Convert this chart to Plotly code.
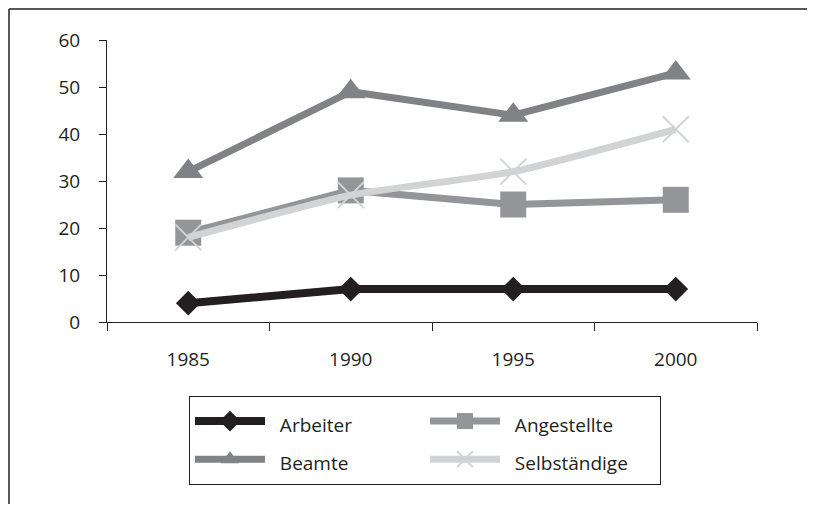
import plotly.graph_objects as go

years = ["1985", "1990", "1995", "2000"]
arbeiter = [4, 7, 7, 7]
angestellte = [19, 28, 25, 26]
beamte = [32, 49, 44, 53]
selbstaendige = [18, 27, 32, 41]
y_ticks = [0, 10, 20, 30, 40, 50, 60]
grid_ticks = [10, 20, 30, 40, 50]

# the page body has an 8px default margin; size the figure so the page fits the window
OFF = 8
W, H = 815 - 2 * OFF, 512 - 2 * OFF
ML, MT = 107 - OFF, 40 - OFF
PW, PH = 650, 282
MR, MB = W - ML - PW, H - MT - PH

FONT = "Open Sans"
INK = "#231f20"


def lbl(s):
    return '<span style="font-size:19px">&nbsp;&nbsp;' + s + '</span>'


fig = go.Figure()
fig.add_trace(go.Scatter(
    x=years, y=arbeiter, name=lbl("Arbeiter"), mode="lines+markers",
    line=dict(color=INK, width=8),
    marker=dict(symbol="diamond", size=19, color=INK)))
fig.add_trace(go.Scatter(
    x=years, y=angestellte, name=lbl("Angestellte"), mode="lines+markers",
    line=dict(color="#939598", width=7),
    marker=dict(symbol="square", size=26, color="#939598")))
fig.add_trace(go.Scatter(
    x=years, y=beamte, name=lbl("Beamte"), mode="lines+markers",
    line=dict(color="#808285", width=7),
    marker=dict(symbol="triangle-up", size=26, color="#808285")))
fig.add_trace(go.Scatter(
    x=years, y=selbstaendige, name=lbl("Selbständige"), mode="lines+markers",
    line=dict(color="#d1d3d4", width=7, shape="spline", smoothing=0.5),
    marker=dict(symbol="x-thin-open", size=26, color="#d1d3d4",
                line=dict(color="#d1d3d4", width=2))))

# frame of the picture: only its top and left edges are visible
fx0 = (1 - ML) / PW
fy1 = 1 + (MT - 1) / PH
fx_far = (W + 50 - ML) / PW
fy_far = -(H + 50 - MT - PH) / PH

fig.update_layout(
    width=W, height=H,
    margin=dict(l=ML, r=MR, t=MT, b=MB),
    paper_bgcolor="white", plot_bgcolor="rgba(0,0,0,0)",
    font=dict(family=FONT, size=19, color=INK),
    showlegend=True,
    xaxis=dict(type="category", range=[-0.5, 3.5], tickson="boundaries",
               ticks="outside", ticklen=8, tickcolor=INK, tickwidth=1,
               showline=True, linecolor=INK, linewidth=1,
               showgrid=False, zeroline=False, ticklabelstandoff=20),
    yaxis=dict(range=[0, 60], tickvals=y_ticks, ticks="outside", ticklen=7,
               tickcolor=INK, showline=True, linecolor=INK,
               linewidth=1, showgrid=False, zeroline=False,
               ticklabelstandoff=15),
    yaxis2=dict(range=[0, 60], overlaying="y", anchor="x", tickvals=grid_ticks,
                showgrid=True, gridcolor=INK, gridwidth=1,
                showticklabels=False, ticks="", showline=False, zeroline=False),
    legend=dict(orientation="h", x=(189 - 107) / PW, xanchor="left",
                y=-(396 - 322) / PH, yanchor="top",
                bordercolor=INK, borderwidth=1,
                font=dict(family=FONT, size=27, color=INK),
                entrywidth=150, entrywidthmode="pixels", itemwidth=70,
                traceorder="normal", bgcolor="white"),
    shapes=[
        dict(type="line", xref="paper", yref="paper", layer="above",
             x0=fx0, x1=fx_far, y0=fy1, y1=fy1,
             line=dict(color=INK, width=1.5)),
        dict(type="line", xref="paper", yref="paper", layer="above",
             x0=fx0, x1=fx0, y0=fy1, y1=fy_far,
             line=dict(color=INK, width=1.5)),
    ],
)

fig.write_html("out.html")
